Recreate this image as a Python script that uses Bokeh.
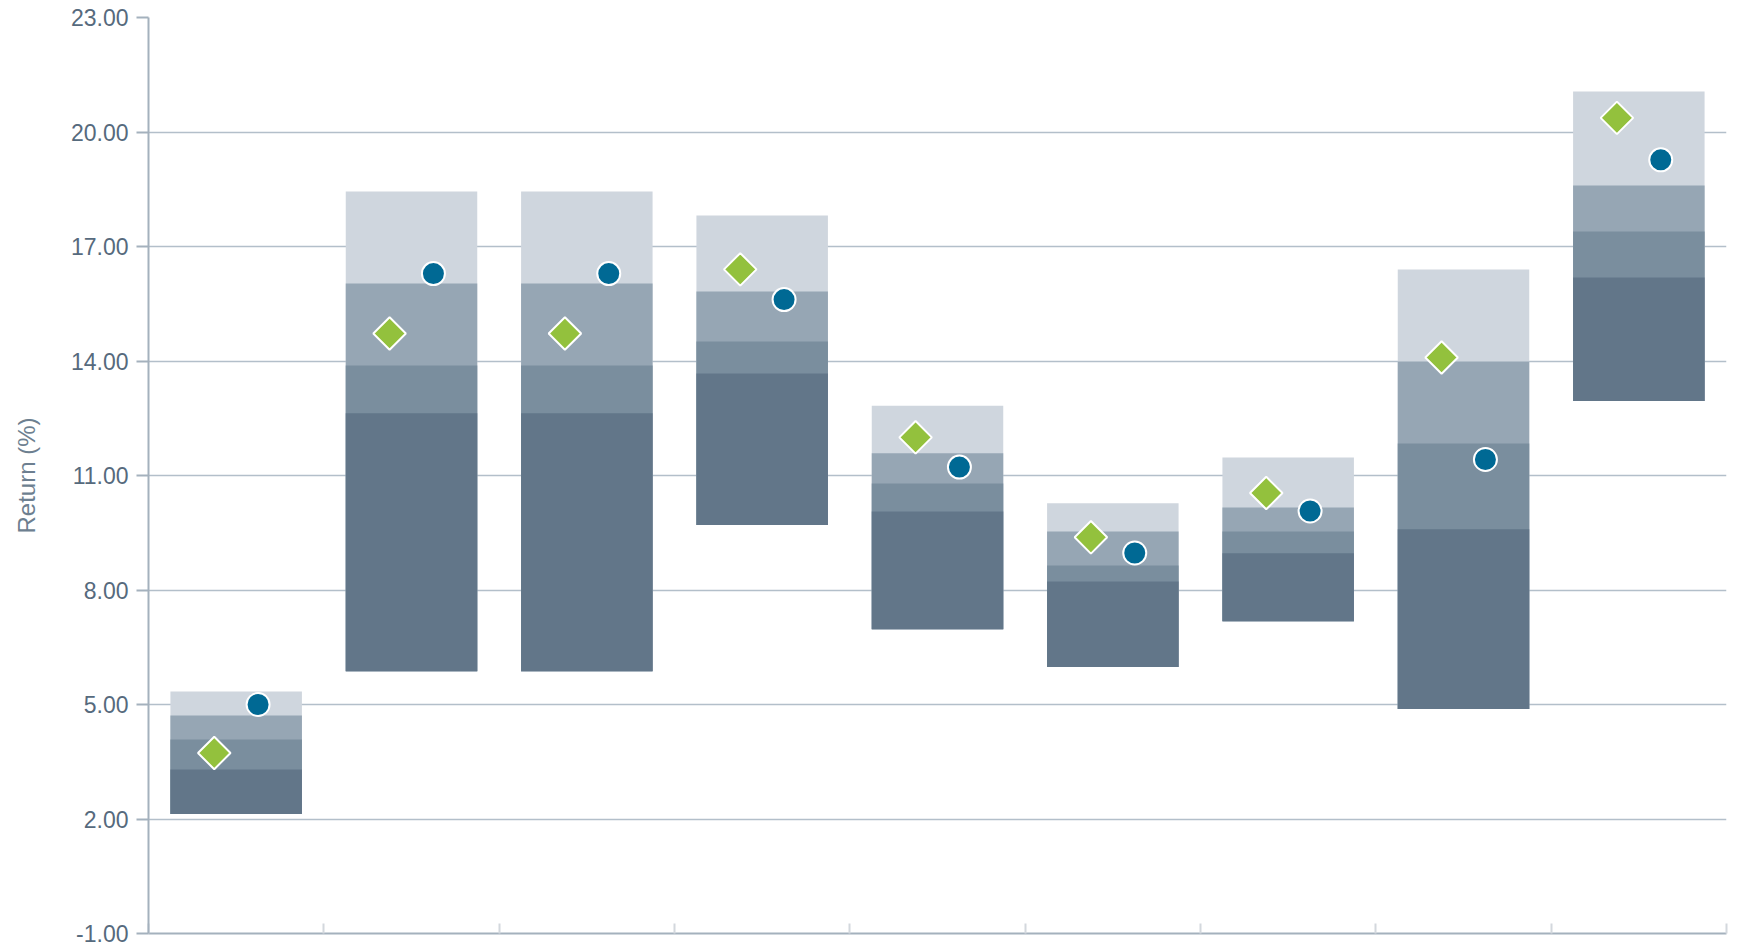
import numpy as np
from bokeh.plotting import figure
from bokeh.models import Range1d, FixedTicker, NumeralTickFormatter, ColumnDataSource
from bokeh.embed import file_html
from bokeh.resources import INLINE

# ---- data ----
categories = ["1", "2", "3", "4", "5", "6", "7", "8", "9"]
low = [2.13, 5.87, 5.87, 9.70, 6.97, 5.98, 7.18, 4.88, 12.95]
q1 = [3.30, 12.63, 12.63, 13.67, 10.06, 8.22, 8.96, 9.59, 16.19]
median = [4.08, 13.88, 13.88, 14.51, 10.79, 8.64, 9.53, 11.84, 17.39]
q3 = [4.71, 16.03, 16.03, 15.82, 11.58, 9.53, 10.16, 13.99, 18.60]
high = [5.34, 18.44, 18.44, 17.81, 12.83, 10.27, 11.47, 16.40, 21.06]
diamond_vals = [3.73, 14.72, 14.72, 16.40, 12.00, 9.38, 10.54, 14.09, 20.37]
circle_vals = [5.00, 16.29, 16.29, 15.61, 11.22, 8.97, 10.07, 11.42, 19.27]
y_ticks = [-1, 2, 5, 8, 11, 14, 17, 20, 23]

n = len(categories)
xc = np.arange(n) + 0.5

src = ColumnDataSource(dict(
    x=xc, xd=xc - 0.125, xo=xc + 0.125,
    low=low, q1=q1, median=median, q3=q3, high=high,
    dia=diamond_vals, cir=circle_vals,
))

p = figure(width=1761, height=943, output_backend="svg", toolbar_location=None,
           x_range=Range1d(0, n), y_range=Range1d(-1, 23),
           min_border_left=148, min_border_right=35, min_border_top=17, min_border_bottom=10)
p.outline_line_color = None
p.background_fill_color = "white"

# bands drawn from the bottom, lightest (tallest) first so that they overlap without seams
band_colors = ["#cfd6de", "#96a6b4", "#7a8e9e", "#627689"]
tops = ["high", "q3", "median", "q1"]
for t, c in zip(tops, band_colors):
    p.vbar(x="x", width=0.75, bottom="low", top=t, source=src,
           fill_color=c, line_color=None)

p.scatter(x="xd", y="dia", source=src, marker="square", angle=np.pi / 4, size=23,
          fill_color="#93c13d", line_color="white", line_width=2)
p.scatter(x="xo", y="cir", source=src, marker="circle", size=23,
          fill_color="#006994", line_color="white", line_width=2)

# grid
p.xgrid.visible = False
p.ygrid.grid_line_color = "#b3bfca"
p.ygrid.grid_line_width = 1.6
p.ygrid.ticker = FixedTicker(ticks=y_ticks)

# y axis
ya = p.yaxis[0]
ya.ticker = FixedTicker(ticks=y_ticks)
ya.formatter = NumeralTickFormatter(format="0.00")
ya.axis_label = "Return (%)"
ya.axis_label_text_font = "Liberation Sans"
ya.axis_label_text_font_size = "24px"
ya.axis_label_text_font_style = "normal"
ya.axis_label_text_color = "#6d7f90"
ya.axis_label_standoff = 28
ya.major_label_text_font = "Liberation Sans"
ya.major_label_text_font_size = "23px"
ya.major_label_text_color = "#566a7d"
ya.major_label_standoff = 8
ya.axis_line_color = "#a4b1bd"
ya.axis_line_width = 2
ya.major_tick_line_color = "#a4b1bd"
ya.major_tick_line_width = 2
ya.major_tick_out = 12
ya.major_tick_in = 0
ya.minor_tick_line_color = None

# x axis (no labels, ticks at category boundaries)
x_ticks = list(range(0, n + 1))
xa = p.xaxis[0]
xa.ticker = FixedTicker(ticks=x_ticks)
xa.major_label_overrides = {t: "" for t in x_ticks}
xa.major_label_standoff = 0
xa.axis_line_color = "#a4b1bd"
xa.axis_line_width = 2
xa.major_tick_line_color = "#d3d8dd"
xa.major_tick_line_width = 2
xa.major_tick_in = 10
xa.major_tick_out = 0
xa.minor_tick_line_color = None

open("out.html", "w").write(file_html(p, INLINE))
